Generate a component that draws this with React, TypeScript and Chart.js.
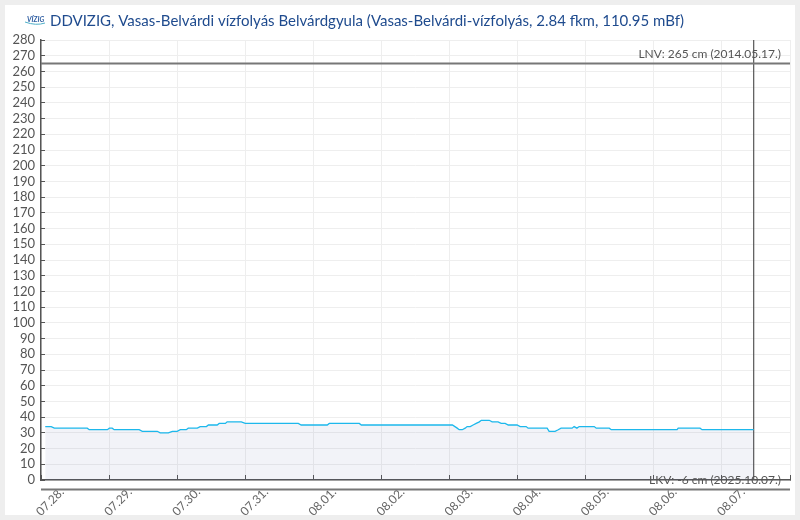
import React, { useEffect, useRef } from "react";
import { Chart, registerables } from "chart.js";

Chart.register(...registerables);

const titleText = "DDVIZIG, Vasas-Belvárdi vízfolyás Belvárdgyula (Vasas-Belvárdi-vízfolyás, 2.84 fkm, 110.95 mBf)";
const dayLabels = ["07.28.", "07.29.", "07.30.", "07.31.", "08.01.", "08.02.", "08.03.", "08.04.", "08.05.", "08.06.", "08.07.", ""];
const hours = [1.5, 3.6, 4.7, 16.3, 17.0, 23.4, 24.1, 25.1, 25.8, 34.6, 35.7, 41.0, 42.0, 44.9, 46.3, 48.0, 49.1, 51.2, 51.9, 55.1, 56.1, 58.3, 59.0, 62.1, 62.8, 65.0, 65.6, 70.6, 72.0, 90.7, 91.7, 100.9, 101.6, 112.2, 112.9, 145.0, 146.7, 147.4, 148.5, 149.5, 150.2, 151.3, 152.3, 153.4, 154.5, 155.2, 158.0, 159.0, 161.1, 162.2, 163.6, 164.7, 167.8, 168.9, 171.0, 171.7, 178.4, 179.1, 181.2, 182.3, 183.3, 187.2, 187.9, 188.9, 189.7, 195.0, 195.7, 200.3, 201.0, 224.2, 224.6, 232.3, 233.0, 251.2];
const levels = [34, 34, 33, 33, 32, 32, 33, 33, 32, 32, 31, 31, 30, 30, 31, 31, 32, 32, 33, 33, 34, 34, 35, 35, 36, 36, 37, 37, 36, 36, 35, 35, 36, 36, 35, 35, 33, 32, 32, 33, 34, 34, 35, 36, 37, 38, 38, 37, 37, 36, 36, 35, 35, 34, 34, 33, 33, 31, 31, 32, 33, 33, 34, 33, 34, 34, 33, 33, 32, 32, 33, 33, 32, 32];
const lnvValue = 265;
const lkvValue = -6;
const lnvLabel = "LNV: 265 cm (2014.05.17.)";
const lkvLabel = "LKV: -6 cm (2025.10.07.)";
const axisMaxHours = 264;
const nowHours = 251.2;

const FONT = "Lato, sans-serif";

const annotate = {
  id: "annotate",
  afterDraw(chart: any) {
    const { ctx, scales } = chart;
    ctx.save();
    // logo
    ctx.fillStyle = "#2a5aa0";
    ctx.font = `italic bold 7px ${FONT}`;
    ctx.textAlign = "left";
    ctx.textBaseline = "alphabetic";
    ctx.fillText("VÍZIG", 27, 22);
    ctx.strokeStyle = "#4fb0c8";
    ctx.lineWidth = 1;
    ctx.beginPath();
    ctx.moveTo(25, 22);
    ctx.quadraticCurveTo(36, 26, 45, 23);
    ctx.stroke();
    // title
    ctx.fillStyle = "#1f4b8e";
    ctx.font = `15px ${FONT}`;
    ctx.fillText(titleText, 50, 26);
    // limit labels
    ctx.fillStyle = "#555555";
    ctx.font = `12px ${FONT}`;
    ctx.textAlign = "right";
    ctx.textBaseline = "middle";
    const xr = scales.x.right - 9;
    ctx.fillText(lnvLabel, xr, scales.y.getPixelForValue(lnvValue) - 9);
    ctx.fillText(lkvLabel, xr, scales.y.getPixelForValue(0));
    ctx.restore();
  },
};

export default function App() {
  const ref = useRef<HTMLCanvasElement>(null);
  useEffect(() => {
    document.body.style.margin = "0";
    const chart = new Chart(ref.current!, {
      type: "line",
      data: {
        datasets: [
          {
            data: hours.map((h, i) => ({ x: h, y: levels[i] })),
            borderColor: "#1db8ec",
            borderWidth: 1.3,
            backgroundColor: "rgba(90,100,170,0.08)",
            fill: "origin",
            pointRadius: 0,
            tension: 0,
          },
          {
            data: [{ x: 0, y: lnvValue }, { x: axisMaxHours, y: lnvValue }],
            borderColor: "#777777",
            borderWidth: 2,
            pointRadius: 0,
            fill: false,
          },
          {
            data: [{ x: 0, y: lkvValue }, { x: axisMaxHours, y: lkvValue }],
            borderColor: "#777777",
            borderWidth: 2,
            pointRadius: 0,
            fill: false,
            clip: false,
          },
          {
            data: [{ x: nowHours, y: 0 }, { x: nowHours, y: 280 }],
            borderColor: "#555555",
            borderWidth: 1.2,
            pointRadius: 0,
            fill: false,
          },
        ],
      } as any,
      options: {
        animation: false,
        responsive: false,
        devicePixelRatio: 1,
        layout: { padding: { left: 0, right: 10, top: 40, bottom: 0 } },
        plugins: { legend: { display: false }, tooltip: { enabled: false }, title: { display: false } },
        scales: {
          x: {
            type: "linear",
            min: 0,
            max: axisMaxHours,
            afterFit: (s: any) => { s.height = 40; s.paddingLeft = 0; s.paddingRight = 0; },
            afterBuildTicks: (s: any) => {
              s.ticks = dayLabels.map((_, i) => ({ value: i * 24 }));
            },
            border: { color: "#555555", width: 1.5 },
            grid: { color: "#eeeeee", tickColor: "#555555", tickLength: -5, lineWidth: 1 },
            ticks: {
              autoSkip: false,
              maxRotation: 45,
              minRotation: 45,
              labelOffset: 21,
              padding: 10,
              color: "#666666",
              font: { family: FONT, size: 12 },
              callback: (v: any) => dayLabels[Math.round(Number(v) / 24)],
            },
          },
          y: {
            min: 0,
            max: 280,
            afterFit: (s: any) => { s.width = 41; s.paddingTop = 0; s.paddingBottom = 0; },
            border: { color: "#555555", width: 1.5 },
            grid: { color: "#eeeeee", tickColor: "#555555", tickLength: -4, lineWidth: 1 },
            ticks: {
              stepSize: 10,
              autoSkip: false,
              padding: 10,
              color: "#555555",
              font: { family: FONT, size: 13 },
            },
          },
        },
      } as any,
      plugins: [annotate],
    });
    return () => chart.destroy();
  }, []);
  return (
    <div style={{ position: "relative", width: 800, height: 520, background: "#eeeeee", overflow: "hidden" }}>
      <div style={{ position: "absolute", left: 5, top: 5, width: 790, height: 510, background: "#ffffff" }} />
      <canvas ref={ref} width={800} height={520} style={{ position: "absolute", left: 0, top: 0 }} />
    </div>
  );
}
